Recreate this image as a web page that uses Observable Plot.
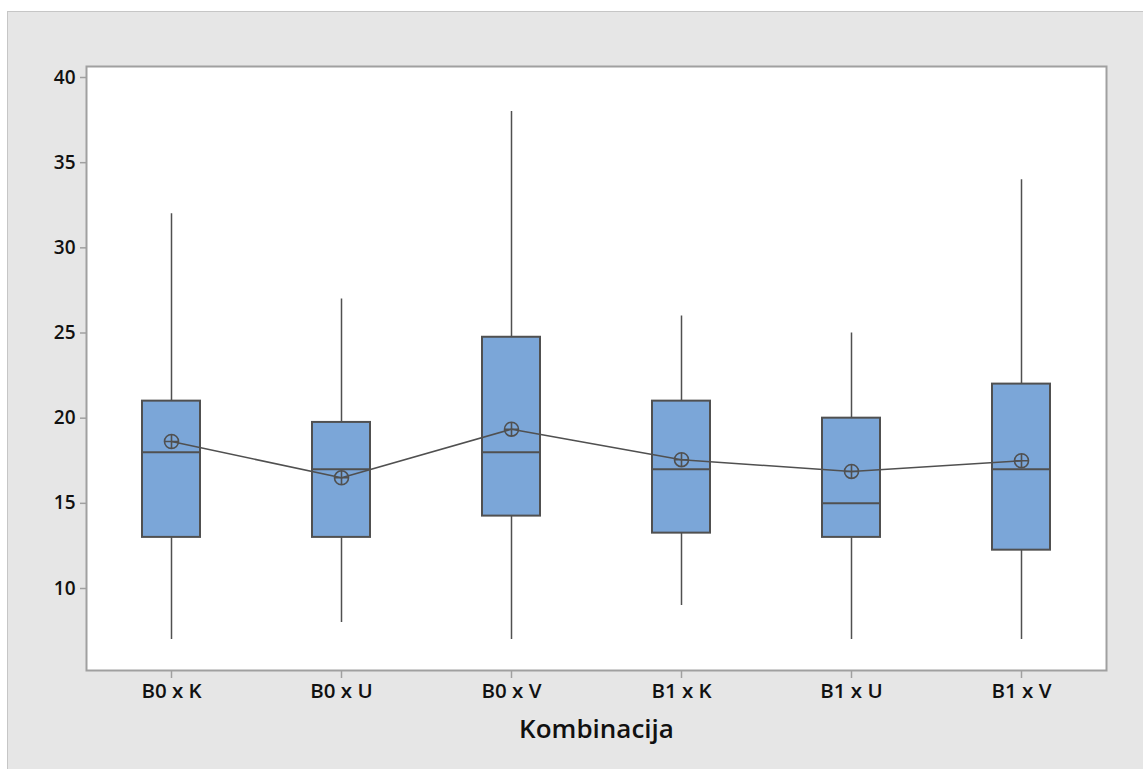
<!DOCTYPE html>
<html><head><meta charset="utf-8">
<script src="https://cdn.jsdelivr.net/npm/d3@7"></script>
<script src="https://cdn.jsdelivr.net/npm/@observablehq/plot@0.6"></script>
<style>
html,body{margin:0;padding:0;background:#fff;}
#bg{position:absolute;left:7px;top:11px;width:1136px;height:758px;background:#e6e6e6;border-left:1px solid #c6c6c6;border-top:1px solid #c6c6c6;box-sizing:border-box}
#chart{position:absolute;left:0;top:0}
</style></head><body><div id="bg"></div><div id="chart"></div>
<script>
const categories = ["B0 x K", "B0 x U", "B0 x V", "B1 x K", "B1 x U", "B1 x V"];
const whiskerLow = [7, 8, 7, 9, 7, 7];
const q1 = [13, 13, 14.25, 13.25, 13, 12.25];
const median = [18, 17, 18, 17, 15, 17];
const q3 = [21, 19.75, 24.75, 21, 20, 22];
const whiskerHigh = [32, 27, 38, 26, 25, 34];
const mean = [18.63, 16.5, 19.35, 17.56, 16.87, 17.5];
const yTicks = [10, 15, 20, 25, 30, 35, 40];
const xLabel = "Kombinacija";

const data = categories.map((c, i) => ({
  cat: c, lo: whiskerLow[i], q1: q1[i], med: median[i], q3: q3[i], hi: whiskerHigh[i], mean: mean[i]
}));

const circlePlus = {
  draw(ctx, size) {
    const r = Math.sqrt(size / Math.PI);
    ctx.moveTo(r, 0);
    ctx.arc(0, 0, r, 0, 2 * Math.PI);
    ctx.moveTo(-r, 0); ctx.lineTo(r, 0);
    ctx.moveTo(0, -r); ctx.lineTo(0, r);
  }
};

const dark = "#505050";
const chart = Plot.plot({
  width: 1143, height: 769,
  marginLeft: 86, marginTop: 66, marginRight: 37, marginBottom: 99,
  style: {background: "transparent", fontFamily: "'Open Sans', sans-serif", overflow: "visible"},
  x: {domain: categories, padding: 0, label: null},
  y: {domain: [5.186, 40.646], label: null},
  marks: [
    Plot.frame({fill: "white", stroke: "#a0a0a0", strokeWidth: 2}),
    Plot.ruleX(data, {x: "cat", y1: "lo", y2: "hi", stroke: dark, strokeWidth: 1.5}),
    Plot.barY(data, {x: "cat", y1: "q1", y2: "q3", fill: "#7ba6d8", stroke: dark, strokeWidth: 2, insetLeft: 56, insetRight: 56}),
    Plot.tickY(data, {x: "cat", y: "med", stroke: dark, strokeWidth: 2, insetLeft: 56, insetRight: 56}),
    Plot.line(data, {x: "cat", y: "mean", stroke: dark, strokeWidth: 1.6}),
    Plot.dot(data, {x: "cat", y: "mean", symbol: circlePlus, r: 7, stroke: dark, strokeWidth: 1.6, fill: "none"}),
    Plot.axisY({ticks: yTicks, tickSize: 6, tickPadding: 5, fontSize: 19, fontWeight: 600, stroke: "#a0a0a0", fill: "#111", strokeWidth: 1.5}),
    Plot.axisX({tickSize: 8, tickPadding: 5, fontSize: 20.5, fontWeight: 600, stroke: "#a0a0a0", fill: "#111", strokeWidth: 1.5, label: null}),
    Plot.text([xLabel], {frameAnchor: "bottom", dy: 59, lineAnchor: "middle", fontSize: 26, fontWeight: 600, fill: "#111"})
  ]
});
document.getElementById("chart").appendChild(chart);
</script></body></html>
